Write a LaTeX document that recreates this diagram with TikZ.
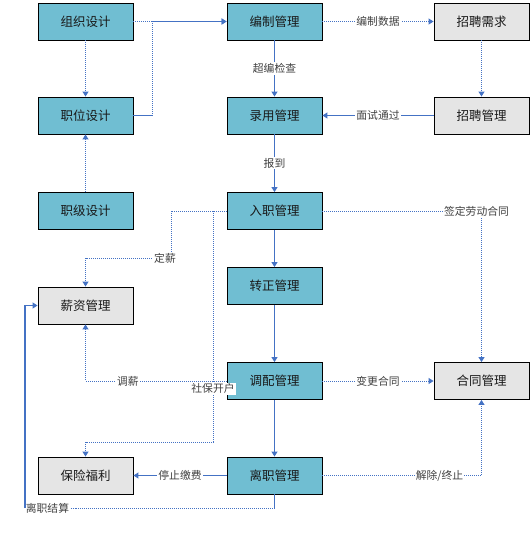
\documentclass[tikz,border=0pt]{standalone}
\usepackage{fontspec}
\newfontfamily\cjk{Noto Sans CJK SC}
\usetikzlibrary{arrows.meta}
\definecolor{teal1}{RGB}{112,190,210}
\definecolor{gray1}{RGB}{229,229,229}
\definecolor{lineblue}{RGB}{68,114,196}
\definecolor{labgray}{RGB}{64,64,64}
\tikzset{
  boxbase/.style={rectangle, draw=black, line width=0.9pt, minimum width=95pt, minimum height=37pt, inner sep=0pt,
    font=\cjk\fontsize{12.5}{14}\selectfont, text=black!90},
  tbox/.style={boxbase, fill=teal1},
  gbox/.style={boxbase, fill=gray1},
  dotline/.style={draw=lineblue, line width=1pt, dash pattern=on 1pt off 1pt},
  solidline/.style={draw=lineblue, line width=1.1pt},
  arr/.style={-{Triangle[length=5pt,width=6pt]}},
  lab/.style={fill=white, inner sep=1pt, text=labgray, font=\cjk\fontsize{10.8}{12}\selectfont},
}
\begin{document}
\begin{tikzpicture}[x=1pt,y=-1pt]
\useasboundingbox (0,0) rectangle (532,536);
% left column
\node[tbox] (zz) at (85.5,21.5) {组织设计};
\node[tbox] (zw) at (85.5,115.5) {职位设计};
\node[tbox] (zj) at (85.5,211) {职级设计};
\node[gbox] (xz) at (85.5,305.5) {薪资管理};
\node[gbox] (bx) at (85.5,475.5) {保险福利};
% middle column
\node[tbox] (bz) at (274.5,21.5) {编制管理};
\node[tbox] (ly) at (274.5,115.5) {录用管理};
\node[tbox] (rz) at (274.5,211) {入职管理};
\node[tbox] (zzg) at (274.5,286) {转正管理};
\node[tbox] (dp) at (274.5,381) {调配管理};
\node[tbox] (lz) at (274.5,475.5) {离职管理};
% right column
\node[gbox] (zq) at (481.5,21.5) {招聘需求};
\node[gbox] (zg) at (481.5,115.5) {招聘管理};
\node[gbox] (ht) at (481.5,381) {合同管理};
% helper coordinates
\coordinate (c1) at (152,0);
\coordinate (d1) at (171,258);
\coordinate (d2) at (213,442);
\coordinate (d3) at (25,508);
% connectors
\draw[dotline,arr] (zz.south) -- (zw.north);
\draw[dotline,arr] (zj.north) -- (zw.south);
\draw[dotline,arr] (zz.east) -- (bz.west);
\draw[solidline] (zw.east) -- (zw.east -| c1);
\draw[dotline,arr] (zw.east -| c1) |- (bz.west);
\draw[dotline,arr] (bz.east) -- node[lab] (l1) {编制数据} (zq.west);
\draw[solidline,arr] (bz.south) -- node[lab] (l2) {超编检查} (ly.north);
\draw[dotline,arr] (zq.south) -- (zg.north);
\draw[solidline,arr] (zg.west) -- node[lab] (l3) {面试通过} (ly.east);
\draw[solidline,arr] (ly.south) -- node[lab] (l4) {报到} (rz.north);
\draw[solidline,arr] (rz.south) -- (zzg.north);
\draw[solidline,arr] (zzg.south) -- (dp.north);
\draw[solidline,arr] (dp.south) -- (lz.north);
\draw[dotline,arr] (rz.east) -| node[lab,pos=0.5,xshift=-5pt] (l5) {签定劳动合同} (ht.north);
\draw[dotline,arr] (dp.east) -- node[lab] (l6) {变更合同} (ht.west);
\draw[dotline,arr] (lz.east) -| node[lab,pos=0.368] (l7) {解除/终止} (ht.south);
\draw[solidline,arr] (lz.west) -- node[lab] (l8) {停止缴费} (bx.east);
\draw[dotline,arr] (rz.west) -| (d1) -- node[lab,pos=0.07] (l9) {定薪} (d1 -| xz.north) -- (xz.north);
\draw[dotline,arr] (rz.west) -| node[lab,pos=0.885] (l10) {社保开户} (d2) -| (bx.north);
\draw[dotline,arr] (dp.west) -| node[lab,pos=0.35] (l11) {调薪} (xz.south);
\draw[solidline] (lz.south) -- (lz.south |- d3);
\draw[dotline] (lz.south |- d3) -- node[lab,pos=0.91] (l12) {离职结算} (d3);
\draw[solidline,arr] (d3) |- (xz.west);
\end{tikzpicture}
\end{document}
